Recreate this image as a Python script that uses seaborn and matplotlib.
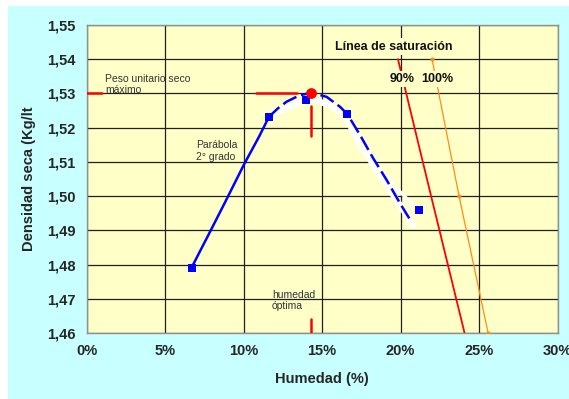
import matplotlib
matplotlib.use("Agg")
import matplotlib.pyplot as plt
import seaborn as sns
import pandas as pd
from matplotlib.patches import Rectangle
from matplotlib.ticker import FuncFormatter

sns.set_style("white")
plt.rcParams['font.family'] = ['Liberation Sans', 'DejaVu Sans']

# measured points
hum_pts = [6.7, 11.6, 14.0, 16.6, 21.2]
dens_pts = [1.479, 1.523, 1.528, 1.524, 1.496]

# fitted curve (blue)
curve_solid_x = [6.7, 7.8, 8.8, 10.0, 11.0, 11.6]
curve_solid_y = [1.4792, 1.489, 1.498, 1.509, 1.5175, 1.523]
curve_dash_x = [11.58, 12.2, 12.74, 13.59, 14.34, 15.29, 16.14, 16.6, 17.41, 18.26, 19.11, 19.96, 20.55]
curve_dash_y = [1.523, 1.5257, 1.5276, 1.5295, 1.5302, 1.5290, 1.5261, 1.5240, 1.5179, 1.5110, 1.5047, 1.4979, 1.4935]

# white shadow curves
shadow_x = [12.0, 13.17, 14.34, 15.5, 16.46, 17.41, 18.47, 19.53, 20.8]
shadow_y = [1.5242, 1.5266, 1.5283, 1.5266, 1.5234, 1.5154, 1.5076, 1.5003, 1.4916]
shadow2_x = [17.41, 18.47, 19.7, 20.9]
shadow2_y = [1.5165, 1.5085, 1.5025, 1.4969]

# saturation lines
sat90_x = [19.83, 21.94, 24.07]
sat90_y = [1.540, 1.500, 1.460]
sat100_x = [22.0, 23.72, 25.57]
sat100_y = [1.540, 1.500, 1.460]

# optimum
w_opt = 14.3
d_max = 1.530

x_ticks = [0, 5, 10, 15, 20, 25, 30]
y_ticks = [1.46, 1.47, 1.48, 1.49, 1.50, 1.51, 1.52, 1.53, 1.54, 1.55]

fig = plt.figure(figsize=(5.69, 3.99), dpi=100)
fig.patch.set_facecolor('white')
fig.patches.append(Rectangle((8/569, 0.0), 1 - 8/569, 1 - 6/399,
                             transform=fig.transFigure, facecolor='#C8FFFF',
                             edgecolor='none', zorder=-10))
ax = fig.add_axes([86.5/569, 1 - 333/399, (557.7 - 86.5)/569, (333 - 25)/399])
ax.set_facecolor('#FFFFC8')

ax.set_xlim(0, 30)
ax.set_ylim(1.46, 1.55)
ax.set_xticks(x_ticks)
ax.set_yticks(y_ticks)
ax.grid(True, color='#202020', linewidth=0.9, zorder=0)
ax.set_axisbelow(True)
ax.xaxis.set_major_formatter(FuncFormatter(lambda v, p: f"{v:.0f}%"))
ax.yaxis.set_major_formatter(FuncFormatter(lambda v, p: f"{v:.2f}".replace('.', ',')))
for s in ax.spines.values():
    s.set_color('#909090')
    s.set_linewidth(1.0)
ax.tick_params(axis='both', which='major', length=4, width=1, color='#909090',
               direction='out', labelsize=10.5, pad=4)
for lab in ax.get_xticklabels() + ax.get_yticklabels():
    lab.set_fontweight('bold')

# shadow
sns.lineplot(x=shadow_x, y=shadow_y, ax=ax, color='white', linewidth=4.5,
             sort=False, estimator=None, zorder=2)
sns.lineplot(x=shadow2_x, y=shadow2_y, ax=ax, color='white', linewidth=2.5,
             sort=False, estimator=None, zorder=2)
# blue fitted curve
sns.lineplot(x=curve_solid_x, y=curve_solid_y, ax=ax, color='#0000FF', linewidth=1.8,
             sort=False, estimator=None, zorder=3)
sns.lineplot(x=curve_dash_x, y=curve_dash_y, ax=ax, color='#0000FF', linewidth=1.8,
             sort=False, estimator=None, zorder=3, linestyle=(0, (6, 2)))
sns.scatterplot(x=hum_pts, y=dens_pts, ax=ax, marker='s', s=30, color='#0000FF',
                edgecolor='#0000FF', linewidth=0, zorder=4)

# saturation lines
sns.lineplot(x=sat90_x, y=sat90_y, ax=ax, color='#FF0000', linewidth=1.3,
             sort=False, estimator=None, zorder=3)
sns.lineplot(x=sat100_x, y=sat100_y, ax=ax, color='#FF8C1A', linewidth=0.9,
             sort=False, estimator=None, zorder=3, marker='o', markersize=3,
             markeredgewidth=0)

# optimum markers
ax.plot([0, 1.0], [d_max, d_max], color='#FF0000', linewidth=1.8, zorder=3)
ax.plot([10.8, 13.4], [d_max, d_max], color='#FF0000', linewidth=1.8, zorder=3)
ax.plot([w_opt, w_opt], [1.5262, 1.5176], color='#FF0000', linewidth=1.8, zorder=3)
ax.plot([w_opt, w_opt], [1.4642, 1.460], color='#FF0000', linewidth=1.8, zorder=3)
sns.scatterplot(x=[w_opt], y=[d_max], ax=ax, marker='o', s=60, color='#FF0000',
                linewidth=0, zorder=5)

# texts
txt_col = '#333333'
ax.text(1.2, 1.5357, "Peso unitario seco\nmáximo", fontsize=7.5, color=txt_col,
        va='top', ha='left', linespacing=1.15)
ax.text(7.0, 1.5163, "Parábola\n2° grado", fontsize=7.5, color=txt_col,
        va='top', ha='left', linespacing=1.15)
ax.text(11.8, 1.4727, "humedad\nóptima", fontsize=7.5, color=txt_col,
        va='top', ha='left', linespacing=1.15)
ax.text(15.8, 1.5437, "Línea de saturación", fontsize=9, fontweight='bold',
        color='#111111', va='center', ha='left',
        bbox=dict(facecolor='#FFFFC8', edgecolor='none', pad=1.5))
ax.text(19.3, 1.5343, "90%", fontsize=9, fontweight='bold', color='#111111',
        va='center', ha='left', zorder=6,
        bbox=dict(facecolor='#FFFFC8', edgecolor='none', pad=1.5))
ax.text(21.3, 1.5343, "100%", fontsize=9, fontweight='bold', color='#111111',
        va='center', ha='left', zorder=6,
        bbox=dict(facecolor='#FFFFC8', edgecolor='none', pad=1.5))

ax.set_xlabel("Humedad (%)", fontsize=10.5, fontweight='bold', labelpad=10)
ax.set_ylabel("Densidad seca (Kg/lt", fontsize=10.5, fontweight='bold', labelpad=8)

fig.savefig("out.png", dpi=100, facecolor=fig.get_facecolor())
